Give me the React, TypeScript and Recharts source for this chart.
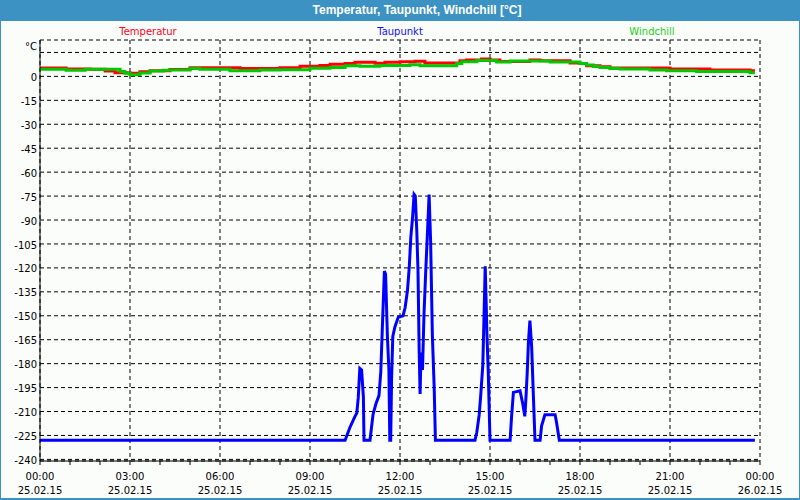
import React from 'react';
import { LineChart, Line, XAxis, YAxis, CartesianGrid } from 'recharts';

const chartTitle = 'Temperatur, Taupunkt, Windchill [°C]';
const seriesNames = ['Temperatur', 'Taupunkt', 'Windchill'];
const seriesColors = ['#ff0000', '#0000ff', '#00c800'];
const legendColors = ['#ff0020', '#1010ff', '#20d020'];

// Temperatur (red), step changes: hour -> °C
const tempHours = [0, 0.87, 1.67, 2.17, 2.5, 3.0, 3.33, 3.67, 4.33, 5.0, 6.67, 8.0, 8.67, 9.33, 9.67, 10.17, 10.5, 11.17, 11.5, 12.0, 12.5, 12.83, 14.0, 14.22, 14.72, 15.0, 15.33, 16.33, 16.67, 17.67, 18.0, 18.22, 18.67, 19.0, 21.0, 22.33, 23.67, 23.83];
const tempValues = [5.3, 4.6, 4.4, 3.3, 2.3, 2.0, 2.9, 3.6, 4.3, 5.4, 4.9, 5.4, 6.3, 6.9, 7.6, 8.0, 8.9, 8.2, 8.9, 9.1, 9.5, 8.4, 9.8, 10.3, 10.9, 10.3, 9.4, 10.3, 9.8, 8.4, 8.0, 6.7, 6.0, 5.2, 4.6, 4.0, 3.6, 3.6];

// Windchill (green)
const windHours = [0, 0.87, 1.5, 2.67, 2.83, 3.0, 3.33, 3.67, 4.11, 4.33, 5.0, 5.33, 6.33, 7.33, 8.0, 9.0, 9.67, 10.17, 10.67, 11.33, 12.33, 12.67, 13.89, 14.06, 14.56, 15.22, 15.67, 17.0, 18.0, 18.22, 18.44, 18.67, 19.0, 19.33, 20.33, 20.89, 21.89, 23.67, 23.83];
const windValues = [4.4, 3.8, 4.4, 3.0, 2.0, 1.0, 2.1, 3.3, 3.8, 4.0, 4.9, 4.4, 3.6, 4.0, 4.2, 5.1, 5.5, 6.7, 6.3, 6.9, 7.3, 6.7, 8.0, 9.2, 9.9, 9.0, 9.6, 9.0, 8.0, 7.1, 6.2, 5.5, 4.9, 4.6, 4.0, 3.6, 3.0, 2.3, 2.3];

// Taupunkt (blue)
const dewHours = [0, 10.17, 10.33, 10.5, 10.56, 10.61, 10.66, 10.72, 10.78, 10.8, 11.0, 11.1, 11.2, 11.3, 11.36, 11.42, 11.48, 11.52, 11.58, 11.63, 11.66, 11.69, 11.72, 11.76, 11.83, 11.94, 12.1, 12.17, 12.25, 12.31, 12.36, 12.42, 12.47, 12.51, 12.56, 12.6, 12.64, 12.67, 12.7, 12.75, 12.8, 12.86, 12.92, 12.97, 13.02, 13.08, 13.14, 13.18, 14.5, 14.56, 14.64, 14.69, 14.76, 14.8, 14.84, 14.87, 14.9, 14.94, 15.0, 15.67, 15.72, 15.78, 16.0, 16.09, 16.16, 16.2, 16.24, 16.28, 16.33, 16.39, 16.44, 16.5, 16.67, 16.72, 16.83, 17.17, 17.22, 17.31, 23.83];
const dewValues = [-228, -228, -220, -213, -211, -201, -183, -184, -201, -228, -228, -212, -205, -200, -185, -153, -122, -124, -163, -184, -228, -228, -189, -163, -157, -151, -150, -145, -134, -119, -101, -88, -74, -75, -97, -122, -173, -199, -173, -184, -149, -121, -96, -74, -103, -163, -195, -228, -228, -223, -212, -200, -181, -151, -119, -140, -163, -184, -228, -228, -213, -198, -197, -205, -213, -201, -186, -167, -153, -170, -197, -228, -228, -219, -212, -212, -217, -228, -228];

const yTicks = [15, 0, -15, -30, -45, -60, -75, -90, -105, -120, -135, -150, -165, -180, -195, -210, -225, -240];
const yUnitLabel = '°C';
const yDomain = [-241, 22.8];
const xTicks = [0, 1, 2, 3, 4, 5, 6, 7, 8, 9, 10, 11, 12, 13, 14, 15, 16, 17, 18, 19, 20, 21, 22, 23, 24];
const xMajorTicks = [0, 3, 6, 9, 12, 15, 18, 21, 24];
const xTimeLabels = ['00:00', '03:00', '06:00', '09:00', '12:00', '15:00', '18:00', '21:00', '00:00'];
const xDateLabels = ['25.02.15', '25.02.15', '25.02.15', '25.02.15', '25.02.15', '25.02.15', '25.02.15', '25.02.15', '26.02.15'];

const toData = (hours: number[], values: number[]) => hours.map((h, i) => ({ h, v: values[i] }));
const tempData = toData(tempHours, tempValues);
const dewData = toData(dewHours, dewValues);
const windData = toData(windHours, windValues);

const FONT = '"DejaVu Sans", Verdana, sans-serif';

const XTick = (props: any) => {
  const { x, y, payload } = props;
  const idx = xMajorTicks.indexOf(payload.value);
  if (idx < 0) return <g />;
  return (
    <text x={x} y={y} textAnchor="middle" fontFamily={FONT} fontSize={10} fill="#000">
      <tspan x={x} dy={12.8}>{xTimeLabels[idx]}</tspan>
      <tspan x={x} dy={14}>{xDateLabels[idx]}</tspan>
    </text>
  );
};

const YTick = (props: any) => {
  const { x, y, payload } = props;
  const isUnit = payload.value === yTicks[0];
  return (
    <text x={x} y={isUnit ? y - 6 : y + 1} dy="0.355em" textAnchor="end" fontFamily={FONT} fontSize={10} fill="#000">
      {isUnit ? yUnitLabel : String(payload.value)}
    </text>
  );
};

export default function App() {
  const lineData = [tempData, dewData, windData];
  return (
    <div style={{ position: 'absolute', left: 0, top: 0, width: 800, height: 500, background: '#3b92c3', overflow: 'hidden' }}>
      <div style={{ position: 'absolute', left: 0, top: 0, width: 834, height: 20, lineHeight: '20px', textAlign: 'center', color: '#fff', fontFamily: '"Liberation Sans", Arial, sans-serif', fontWeight: 'bold', fontSize: 12 }}>
        {chartTitle}
      </div>
      <div style={{ position: 'absolute', left: 1, top: 21, width: 798, height: 477, background: '#fbfdfb' }} />
      <div style={{ position: 'absolute', left: 22, top: 26, width: 756, display: 'flex', fontFamily: FONT, fontSize: 10 }}>
        {seriesNames.map((n, i) => (
          <div key={n} style={{ flex: 1, textAlign: 'center', color: legendColors[i] }}>{n}</div>
        ))}
      </div>
      <div style={{ position: 'absolute', left: 0, top: 20 }}>
        <LineChart width={800} height={480} margin={{ top: 20, right: 40, bottom: 0, left: 0 }}>
          <CartesianGrid stroke="#000" strokeDasharray="4 3" verticalValues={xMajorTicks} />
          <XAxis
            dataKey="h"
            type="number"
            domain={[0, 24]}
            ticks={xTicks}
            interval={0}
            height={39}
            tickSize={4}
            tickMargin={2}
            tick={<XTick />}
            axisLine={{ stroke: '#000' }}
            tickLine={{ stroke: '#000' }}
            allowDataOverflow
          />
          <XAxis xAxisId="top" orientation="top" type="number" domain={[0, 24]} height={0} tick={false} tickLine={false} axisLine={{ stroke: '#000' }} />
          <YAxis
            type="number"
            domain={yDomain}
            ticks={yTicks}
            interval={0}
            width={40}
            tickSize={0}
            tickMargin={3}
            tick={<YTick />}
            axisLine={{ stroke: '#000' }}
            tickLine={false}
            allowDataOverflow
          />
          <YAxis yAxisId="right" orientation="right" type="number" domain={[0, 1]} width={0} tick={false} tickLine={false} axisLine={{ stroke: '#000' }} />
          {lineData.map((d, i) => (
            <Line
              key={seriesNames[i]}
              data={d}
              dataKey="v"
              name={seriesNames[i]}
              type={i === 1 ? 'linear' : 'stepAfter'}
              stroke={seriesColors[i]}
              strokeWidth={3}
              dot={false}
              activeDot={false}
              isAnimationActive={false}
            />
          ))}
        </LineChart>
      </div>
    </div>
  );
}
